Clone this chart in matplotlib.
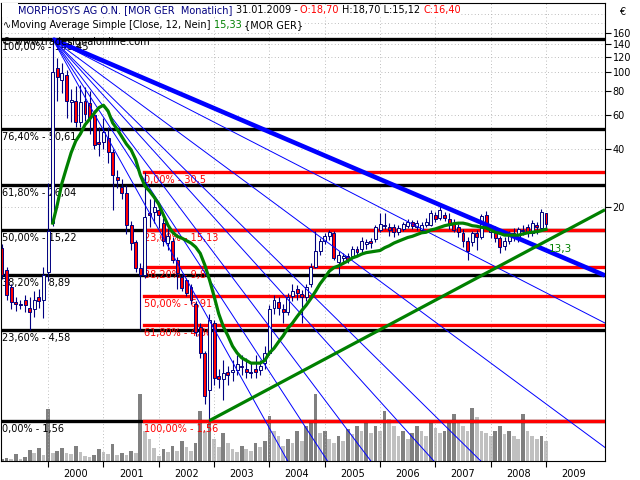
import numpy as np
import matplotlib.pyplot as plt
from matplotlib.lines import Line2D
from matplotlib.patches import Rectangle
from matplotlib.ticker import NullLocator

# monthly candles, Mar 1999 .. Jan 2009
opens = [12.3, 9.4, 7.7, 6.4, 6.3, 6.6, 6.0, 5.9, 6.8, 6.6,
         9.2, 16.5, 105, 91.5, 97, 70, 71, 55, 71, 69,
         60, 43.5, 43.5, 45.5, 38.5, 28.6, 25.5, 23.7, 16.2, 13.2,
         9.7, 8.9, 18.6, 18.9, 19.3, 16.5, 13.0, 13.4, 10.6, 8.7,
         8.4, 7.7, 6.3, 4.8, 3.5, 2.25, 5.0, 2.65, 2.55, 2.8,
         2.8, 2.85, 3.0, 2.9, 2.8, 2.9, 2.85, 3.1, 3.5, 6.0,
         6.4, 5.9, 5.7, 6.9, 7.5, 7.1, 6.8, 8.0, 9.8, 11.8,
         13.4, 14.2, 14.6, 10.4, 10.9, 11.1, 11.1, 12.1, 12.1, 12.8,
         13.4, 13.7, 15.2, 16.0, 15.8, 15.8, 14.9, 15.4, 16.0, 16.8,
         15.8, 15.2, 16.2, 16.2, 18.2, 17.6, 18.2, 17.3, 16.4, 15.8,
         14.6, 13.4, 13.2, 14.6, 14.0, 18.2, 14.8, 15.6, 13.8, 12.6,
         13.3, 14.6, 13.8, 15.0, 15.8, 14.6, 16.2, 15.5, 18.7]
highs = [12.8, 9.8, 8.0, 6.8, 6.6, 7.0, 6.8, 7.3, 7.5, 9.8,
         26.5, 148.45, 118, 112, 103, 82, 85, 86, 84, 80,
         64, 52, 58, 52, 40, 31, 28, 26, 17, 13.5,
         10.3, 30.5, 22, 22.5, 21, 17.5, 15.5, 14, 11, 9.0,
         8.6, 8.0, 6.5, 5.0, 3.6, 5.6, 5.2, 2.9, 3.2, 3.0,
         3.2, 3.4, 3.4, 3.3, 3.1, 3.4, 3.2, 3.8, 6.2, 7.0,
         6.8, 6.3, 7.2, 8.0, 7.9, 7.4, 8.0, 10.2, 15.0, 13.8,
         14.6, 15.2, 15.0, 11.8, 11.6, 11.5, 12.5, 12.6, 13.9, 13.6,
         13.8, 16.2, 18.6, 18.6, 16.6, 16.4, 16.1, 16.8, 17.4, 17.2,
         17.2, 16.8, 17.5, 19.4, 18.8, 20.2, 18.9, 18.6, 17.3, 16.4,
         15.3, 14.0, 15.0, 15.2, 18.4, 19.0, 16.2, 16.0, 14.2, 14.0,
         15.0, 15.6, 15.8, 16.2, 16.4, 17.2, 16.8, 19.6, 18.7]
lows = [8.5, 6.6, 5.9, 5.8, 5.9, 5.7, 4.6, 5.4, 6.0, 5.3,
        8.3, 16.0, 71, 78, 58, 55, 52, 52, 56, 48,
        40, 37, 40, 34, 19.3, 25, 22, 14.5, 12, 9.2,
        4.6, 8.6, 15.8, 16.5, 15.5, 12.5, 12.0, 10.2, 7.5, 7.3,
        6.9, 6.3, 4.3, 3.3, 1.9, 1.56, 2.4, 2.3, 2.0, 2.4,
        2.5, 2.7, 2.7, 2.6, 2.6, 2.6, 2.7, 2.9, 3.4, 5.6,
        5.5, 5.0, 5.5, 6.5, 6.6, 5.0, 6.5, 7.7, 9.6, 11.3,
        12.8, 13.5, 10.6, 8.9, 10.2, 10.2, 10.8, 11.2, 11.6, 12.1,
        12.3, 13.2, 14.8, 15.4, 14.2, 13.9, 14.4, 15.0, 15.5, 15.3,
        15.2, 14.6, 15.8, 15.9, 16.8, 17.2, 17.0, 15.4, 14.8, 14.0,
        12.4, 10.6, 12.6, 12.0, 13.6, 15.3, 13.8, 13.2, 11.5, 12.0,
        12.8, 13.4, 13.2, 14.3, 14.0, 14.2, 14.5, 15.0, 15.12]
closes = [8.9, 7.0, 6.4, 6.3, 6.2, 6.2, 5.7, 6.6, 6.5, 8.9,
          15.0, 100, 94.6, 99, 71, 72, 55, 70, 61, 58,
          42, 42.5, 49, 38.5, 29.3, 27.6, 23.7, 16.2, 13.0, 9.7,
          8.9, 17.7, 18.2, 20.0, 18.2, 13.4, 14.2, 10.6, 9.1, 7.6,
          7.2, 6.6, 4.5, 3.5, 2.1, 5.2, 2.6, 2.55, 2.75, 2.7,
          2.85, 3.05, 2.95, 2.8, 2.75, 2.8, 3.0, 3.5, 5.9, 6.6,
          6.0, 5.7, 6.8, 7.3, 7.2, 6.8, 7.7, 9.8, 11.8, 13.4,
          14.2, 14.9, 10.9, 11.3, 11.2, 10.6, 12.1, 11.7, 13.4, 13.2,
          13.0, 15.8, 16.4, 16.2, 15.2, 14.9, 15.5, 16.3, 16.8, 16.0,
          16.6, 16.2, 16.8, 18.6, 17.3, 19.3, 17.6, 16.2, 15.2, 14.9,
          13.4, 11.9, 14.6, 13.9, 17.9, 15.8, 15.6, 13.8, 12.4, 13.3,
          14.6, 14.0, 15.4, 15.2, 14.9, 16.6, 15.8, 18.9, 16.4]
volume = [2, 3, 2, 7, 2, 4, 11, 8, 13, 6,
          52, 8, 10, 13, 8, 7, 15, 9, 5, 4,
          6, 12, 9, 7, 17, 6, 8, 6, 10, 8,
          67, 30, 22, 13, 5, 12, 9, 15, 10, 20,
          14, 10, 18, 50, 30, 40, 22, 14, 28, 18,
          12, 9, 15, 12, 10, 18, 14, 20, 45, 30,
          25, 15, 22, 18, 30, 20, 35, 40, 67, 28,
          30, 22, 18, 25, 20, 32, 27, 35, 30, 38,
          28, 35, 30, 50, 42, 35, 25, 30, 22, 28,
          35, 30, 25, 40, 33, 28, 30, 38, 47, 40,
          35, 30, 53, 44, 30, 28, 25, 30, 35, 27,
          30, 25, 22, 47, 30, 25, 22, 25, 20]

# 12 month simple moving average, first value at candle 11
ma_start = 11
ma12 = [16.5, 20.6, 26.6, 32.0, 38.3, 44.0, 47.9, 53.4, 57.1, 61.3,
        65.5, 67.5, 63.0, 54.7, 50.6, 46.3, 42.4, 39.6, 35.2, 29.3,
        25.7, 24.2, 22.5, 20.7, 18.2, 16.1, 14.8, 14.1, 13.8, 13.4,
        13.0, 12.4, 11.5, 10.0, 8.4, 6.9, 5.6, 4.8, 4.3, 3.8,
        3.5, 3.3, 3.2, 3.1, 3.1, 3.1, 3.2, 3.5, 3.7, 4.0,
        4.3, 4.7, 5.0, 5.4, 5.8, 6.2, 6.7, 7.3, 8.0, 8.6,
        9.3, 9.7, 9.9, 10.2, 10.5, 10.9, 11.1, 11.4, 11.6, 11.7,
        11.8, 11.9, 12.3, 12.6, 13.0, 13.3, 13.6, 13.9, 14.1, 14.4,
        14.7, 14.8, 15.2, 15.4, 15.7, 16.0, 16.2, 16.4, 16.5, 16.5,
        16.3, 16.0, 15.9, 15.7, 15.6, 15.2, 14.8, 14.6, 14.3, 14.3,
        14.3, 14.3, 14.5, 14.7, 14.8, 14.9, 15.1, 15.33]

years = ['2000', '2001', '2002', '2003', '2004', '2005', '2006', '2007', '2008', '2009']
jan_idx = [10, 22, 34, 46, 58, 70, 82, 94, 106, 118]

price_ticks = [20, 40, 60, 80, 100, 120, 140, 160]
price_grid = [20, 40, 60, 80, 100, 120, 140, 160, 180, 200]

# Fibonacci retracements
fib_black_lv = [148.45, 50.61, 26.04, 15.22, 8.89, 4.58, 1.56]
fib_black_pct = ['100,00%', '76,40%', '61,80%', '50,00%', '38,20%', '23,60%', '0,00%']
fib_black_txt = ['148,45', '50,61', '26,04', '15,22', '8,89', '4,58', '1,56']
fib_red_start = 31
fib_red_lv = [30.5, 15.13, 9.8, 6.91, 4.86, 1.56]
fib_red_pct = ['0,00%', '23,60%', '38,20%', '50,00%', '61,80%', '100,00%']
fib_red_txt = ['30,5', '15,13', '9,8', '6,91', '4,86', '1,56']

# trend lines: anchor + second point (index, price)
peak = (11, 148.45)
thick_pt = (60, 46.8)
fan_pts = [(60, 37.1), (60, 20.2), (60, 10.4), (60, 7.5), (60, 4.15), (60, 2.36), (60, 1.17)]
support = [(45, 1.56), (118, 13.3)]

BG = '#f7faef'
NAVY = '#000080'
GREEN = '#008000'
X0, X1 = -0.217, 130.8
Y0, Y1 = 0.963, 228.8


def ray(p0, p1, x_end):
    k = (np.log(p1[1]) - np.log(p0[1])) / (p1[0] - p0[0])
    return [p0[0], x_end], [p0[1], p0[1] * np.exp(k * (x_end - p0[0]))]


fig = plt.figure(figsize=(6.4, 4.8), dpi=100, facecolor='white')
rect = [1 / 640, 19 / 480, 604 / 640, 458 / 480]

# volume in the back
axv = fig.add_axes(rect, facecolor=BG)
x = np.arange(len(closes))
vcol = ['#808080' if i == 0 or volume[i] >= volume[i - 1] else '#c0c0c0' for i in range(len(volume))]
axv.bar(x, volume, width=0.8, color=vcol, linewidth=0)
axv.set_xlim(X0, X1)
axv.set_ylim(0, 458)
axv.axis('off')

ax = fig.add_axes(rect, sharex=axv)
ax.patch.set_alpha(0)
ax.set_yscale('log')
ax.set_ylim(Y0, Y1)
ax.set_xlim(X0, X1)
for s in ax.spines.values():
    s.set_linewidth(0.8)

for g in price_grid:
    ax.axhline(g, color='#a8a8a8', lw=0.6, ls=(0, (1, 3)), zorder=0.5)
for j in jan_idx:
    ax.axvline(j, color='#a8a8a8', lw=0.6, ls=(0, (1, 3)), zorder=0.5)

# fib lines + labels
for lv, p, t in zip(fib_black_lv, fib_black_pct, fib_black_txt):
    ax.axhline(lv, color='black', lw=2.4, zorder=1)
    ax.annotate(f'{p} - {t}', xy=(0, lv), xycoords=('axes fraction', 'data'),
                xytext=(1, -3), textcoords='offset pixels', va='top', ha='left',
                fontsize=7, color='black', zorder=1.5)
for lv, p, t in zip(fib_red_lv, fib_red_pct, fib_red_txt):
    ax.plot([fib_red_start - 0.3, X1], [lv, lv], color='#ff0000', lw=2.4, zorder=1.2)
    ax.annotate(f'{p} - {t}', xy=(fib_red_start - 0.3, lv),
                xytext=(0, -3), textcoords='offset pixels', va='top', ha='left',
                fontsize=7, color='#ff0000', zorder=1.5)

# candles
o = np.array(opens)
c = np.array(closes)
h = np.array(highs)
l = np.array(lows)
up = c >= o
ax.vlines(x, l, h, color=NAVY, lw=0.8, zorder=2)
bot = np.minimum(o, c)
hgt = np.maximum(np.abs(c - o), bot * 0.012)
ax.bar(x, hgt, bottom=bot, width=0.64, color=np.where(up, BG, '#ff0000'),
       edgecolor=NAVY, linewidth=0.7, zorder=2.1)

# fan lines from the peak
for pt in fan_pts:
    xs, ys = ray(peak, pt, X1)
    ax.plot(xs, ys, color='#0000ff', lw=0.7, zorder=3)
xs, ys = ray(peak, thick_pt, X1)
ax.plot(xs, ys, color='#0000ff', lw=3.3, zorder=3.1, solid_capstyle='butt')

# moving average and support line
ax.plot(np.arange(ma_start, ma_start + len(ma12)), ma12, color=GREEN, lw=2.3, zorder=4)
xs, ys = ray(support[0], support[1], X1)
ax.plot(xs, ys, color=GREEN, lw=2.3, zorder=4, solid_capstyle='butt')
ax.annotate('13,3', xy=support[1], xytext=(3, -3), textcoords='offset pixels',
            va='top', ha='left', fontsize=7.5, color=GREEN, zorder=5)

# axes ticks
ax.yaxis.tick_right()
ax.set_yticks(price_ticks)
ax.set_yticklabels([str(v) for v in price_ticks])
ax.yaxis.set_minor_locator(NullLocator())
ax.tick_params(axis='y', which='major', length=4, width=0.8, pad=1.5, labelsize=7)
ax.set_xticks(jan_idx)
ax.set_xticklabels([])
ax.set_xticks([j + 6 for j in jan_idx], minor=True)
ax.set_xticklabels(years, minor=True)
ax.tick_params(axis='x', which='major', length=4, width=0.8, direction='out')
ax.tick_params(axis='x', which='minor', length=0, pad=5.5, labelsize=7)

# header
wbox = dict(boxstyle='square,pad=0.05', fc='white', ec='none')


def header(parts, xp, yp):
    prev = None
    for s, col in parts:
        if prev is None:
            prev = ax.annotate(s, xy=(xp, yp), xycoords='figure pixels', va='center', ha='left',
                               color=col, fontsize=7, bbox=wbox, zorder=10, annotation_clip=False)
        else:
            prev = ax.annotate(s, xy=(1, 0), xycoords=prev, va='bottom', ha='left',
                               color=col, fontsize=7, bbox=wbox, zorder=10, annotation_clip=False)


fig.patches.append(Rectangle((2, 463), 16, 14, transform=None, fc='white', ec='none', zorder=9))
header([('MORPHOSYS AG O.N. [MOR GER  Monatlich] ', NAVY), ('31.01.2009 - ', 'black'),
        ('O:18,70 ', '#ff0000'), ('H:18,70 L:15,12 ', 'black'), ('C:16,40', '#ff0000')], 18, 470)
header([('\u223fMoving Average Simple [Close, 12, Nein] ', 'black'), ('15,33 ', GREEN),
        ('{MOR GER}', 'black')], 3, 455)
ax.annotate('\u00a9 www.tradesignalonline.com', xy=(2, 438), xycoords='figure pixels',
            va='center', ha='left', fontsize=7, color='black', zorder=10, annotation_clip=False)
fig.lines.append(Line2D([7, 7], [464, 476], transform=None, color=NAVY, lw=0.8))
fig.patches.append(Rectangle((5, 467), 4, 6, transform=None, fc='white', ec=NAVY, lw=0.8))
fig.text(622 / 640, 1 - 12 / 480, '\u20ac', fontsize=7, ha='center', va='center')

fig.savefig('out.png', dpi=100, facecolor='white')
